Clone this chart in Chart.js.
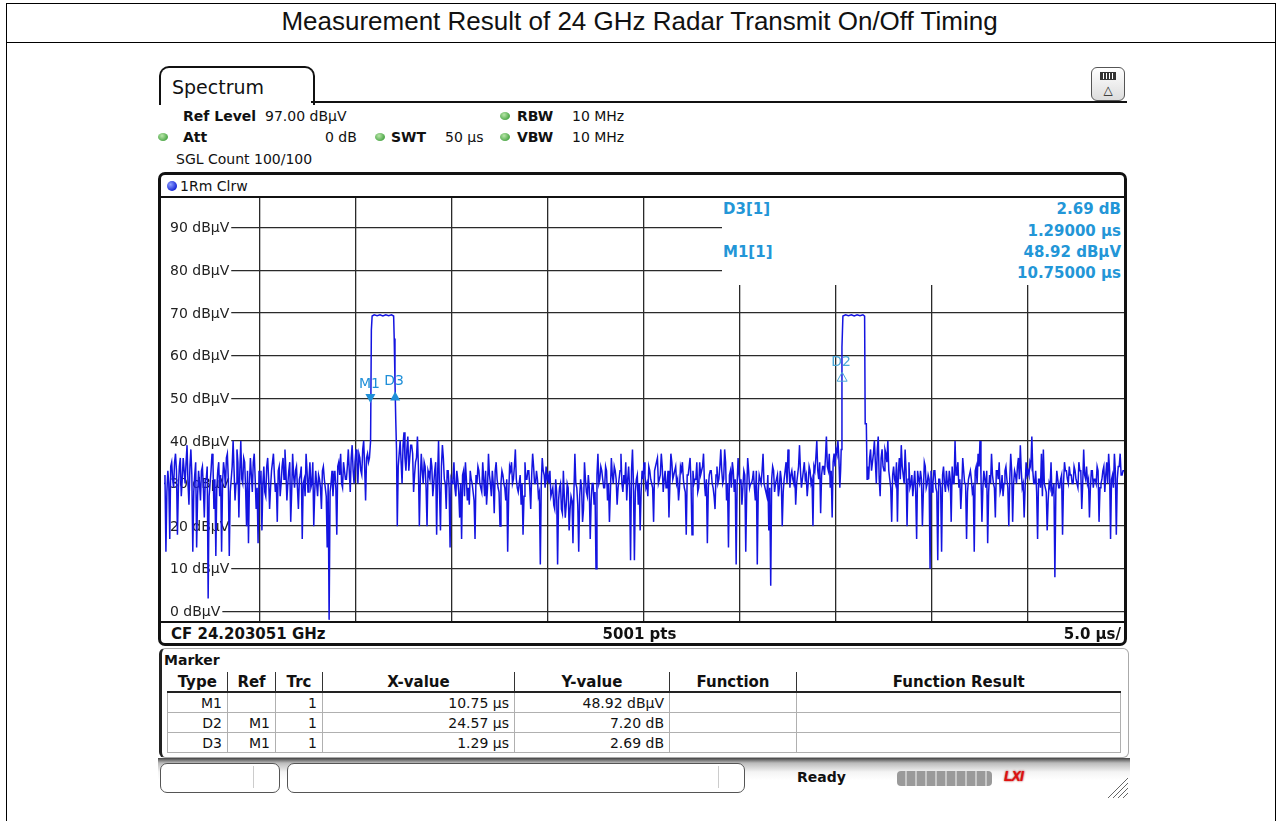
<!DOCTYPE html>
<html>
<head>
<meta charset="utf-8">
<script src="https://cdn.jsdelivr.net/npm/chart.js@4.4.1/dist/chart.umd.min.js"></script>
<style>
  html, body { margin: 0; padding: 0; background: #fff; }
  body { width: 1279px; height: 821px; position: relative; overflow: hidden; font-family: "DejaVu Sans", sans-serif; color: #111; }
  .abs { position: absolute; }
  .t { position: absolute; white-space: nowrap; line-height: 18px; font-size: 14px; }
  .b { font-weight: bold; }
  .mk { color: #2396d7; font-weight: bold; font-size: 15px; }
  .dot { position: absolute; width: 10px; height: 8px; border-radius: 50%; background: radial-gradient(circle at 40% 35%, #b8e6a8, #4fa84a 70%); }
  #page { left: 6px; top: 3px; width: 1268px; height: 840px; border: 1px solid #000; }
  #titleLine { left: 6px; top: 42px; width: 1270px; border-top: 1px solid #000; }
  #title { left: 0; width: 1279px; top: 6px; text-align: center; font-family: "Liberation Sans", Arial, sans-serif; font-size: 26px; line-height: 30px; }
  #tab { left: 159px; top: 66px; width: 152px; height: 37px; border: 2px solid #111; border-bottom: none; border-radius: 10px 10px 0 0; }
  #tabLine { left: 311px; top: 101px; width: 816px; border-top: 2px solid #111; }
  #icon { left: 1091px; top: 67px; width: 32px; height: 32px; border: 1.5px solid #555; border-radius: 6px; background: linear-gradient(#fff, #ddd); text-align: center; font-size: 12px; line-height: 14px; }
  #tracePanel { left: 158px; top: 172px; width: 963px; height: 468px; border: 3px solid #111; border-radius: 7px; }
  #headLine { left: 161px; top: 196px; width: 963px; border-top: 2px solid #111; }
  #footLine { left: 161px; top: 621px; width: 963px; border-top: 2px solid #111; }
  #plot { left: 164px; top: 198px; }
  #infoBox { left: 722px; top: 198px; width: 402px; height: 87px; background: #fff; }
  #markerPanel { left: 159px; top: 648px; width: 966px; height: 108px; border: 1px solid #aaa; border-left: 3px solid #222; border-radius: 6px; }
  table { position: absolute; left: 167px; top: 672px; border-collapse: collapse; font-size: 14px; table-layout: fixed; }
  th { height: 19px; padding: 0; font-weight: bold; font-size: 15px; border-left: 1px solid #333; border-bottom: 2px solid #222; text-align: center; }
  th:first-child { border-left: none; }
  td { height: 19px; padding: 0 5px 0 0; text-align: right; border: 1px solid #b0b0b0; line-height: 18px; }
  #statusBar { left: 158px; top: 758px; width: 972px; height: 40px; background: linear-gradient(#444 0px, #bbb 5px, #f4f4f4 14px, #fff 22px); }
  .sbox { position: absolute; top: 763px; height: 28px; border: 1px solid #555; border-radius: 7px; background: #fff; }
  .sdiv { position: absolute; top: 766px; height: 22px; border-left: 1px solid #ccc; }
  #progress { left: 897px; top: 771px; width: 95px; height: 15px; border-radius: 4px; background: repeating-linear-gradient(90deg, #9a9a9a 0 8px, #c8c8c8 8px 10px); }
  #lxi { left: 1004px; top: 768px; width: 32px; height: 18px; font: italic bold 14px "Liberation Sans", sans-serif; color: #e01010; letter-spacing: -1px; text-shadow: 0 0 2px #900; }
</style>
</head>
<body>
<div id="page" class="abs"></div>
<div id="titleLine" class="abs"></div>
<div id="title" class="abs">Measurement Result of 24 GHz Radar Transmit On/Off Timing</div>

<div id="tab" class="abs"></div>
<div id="tabLine" class="abs"></div>
<div class="t" style="left:172px; top:76px; font-size:19px; line-height:22px;">Spectrum</div>
<div id="icon" class="abs"><span style="display:inline-block;width:14px;height:6px;border:1px solid #333;background:repeating-linear-gradient(90deg,#333 0 2px,#fff 2px 3px);margin-top:4px;"></span><br>&#9651;</div>

<div class="t b" style="left:183px; top:107px;">Ref Level</div>
<div class="t" style="left:265px; top:107px;">97.00 dBµV</div>
<div class="dot" style="left:500px; top:112px;"></div>
<div class="t b" style="left:517px; top:107px;">RBW</div>
<div class="t" style="left:572px; top:107px;">10 MHz</div>
<div class="dot" style="left:158px; top:133px;"></div>
<div class="t b" style="left:183px; top:128px;">Att</div>
<div class="t" style="left:325px; top:128px;">0 dB</div>
<div class="dot" style="left:375px; top:133px;"></div>
<div class="t b" style="left:391px; top:128px;">SWT</div>
<div class="t" style="left:445px; top:128px;">50 µs</div>
<div class="dot" style="left:500px; top:133px;"></div>
<div class="t b" style="left:517px; top:128px;">VBW</div>
<div class="t" style="left:572px; top:128px;">10 MHz</div>
<div class="t" style="left:176px; top:150px;">SGL Count 100/100</div>

<div id="tracePanel" class="abs"></div>
<div class="abs" style="left:167px; top:181px; width:10px; height:10px; border-radius:50%; background:radial-gradient(circle at 35% 35%, #8fa0ff, #1a2ad8 70%);"></div>
<div class="t" style="left:180px; top:177px;">1Rm Clrw</div>
<div id="headLine" class="abs"></div>
<canvas id="plot" class="abs" width="960" height="424"></canvas>
<div id="infoBox" class="abs"></div>
<div class="t mk" style="left:723px; top:200px;">D3[1]</div>
<div class="t mk" style="right:158px; top:200px;">2.69 dB</div>
<div class="t mk" style="right:158px; top:222px;">1.29000 µs</div>
<div class="t mk" style="left:723px; top:243px;">M1[1]</div>
<div class="t mk" style="right:158px; top:243px;">48.92 dBµV</div>
<div class="t mk" style="right:158px; top:264px;">10.75000 µs</div>
<div id="footLine" class="abs"></div>
<div class="t b" style="left:171px; top:625px; font-size:15px;">CF 24.203051 GHz</div>
<div class="t b" style="left:0; width:1279px; text-align:center; top:625px; font-size:15px;">5001 pts</div>
<div class="t b" style="right:158px; top:625px; font-size:15px;">5.0 µs/</div>

<div id="markerPanel" class="abs"></div>
<div class="t b" style="left:164px; top:651px;">Marker</div>
<table id="markerTable">
  <colgroup>
    <col style="width:60px"><col style="width:48px"><col style="width:47px"><col style="width:192px">
    <col style="width:155px"><col style="width:127px"><col style="width:324px">
  </colgroup>
  <thead><tr id="markerHead"></tr></thead>
  <tbody id="markerBody"></tbody>
</table>

<div id="statusBar" class="abs"></div>
<div class="sbox" style="left:160px; width:118px;"></div>
<div class="sdiv" style="left:253px;"></div>
<div class="sbox" style="left:287px; width:456px;"></div>
<div class="sdiv" style="left:718px;"></div>
<div class="t b" style="left:797px; top:768px;">Ready</div>
<div id="progress" class="abs"></div>
<div id="lxi" class="abs">LXI</div>
<svg class="abs" style="left:1100px; top:774px;" width="30" height="24">
  <g stroke="#666" stroke-width="1"><line x1="28" y1="4" x2="8" y2="24"/><line x1="28" y1="9" x2="13" y2="24"/><line x1="28" y1="14" x2="18" y2="24"/><line x1="28" y1="19" x2="23" y2="24"/></g>
</svg>

<script>
// sweep: 50 us, 5 us per division; trace read per division at 0.1 us spacing,
// plus the in-between samples (offset by half a step) that fill the noise band
const sweepStart = 0;
const sweepStop = 50;
const divisionSpan = 5;
const sampleStep = 0.1;

const yMin = -2.5;
const yMax = 97;
const levelTicks = [90, 80, 70, 60, 50, 40, 30, 20, 10, 0];
const timeGrid = [5, 10, 15, 20, 25, 30, 35, 40, 45];

// noise floor, dBµV (null = covered by a pulse)
const traceDiv0 = [30, 14, 33, 17, 35, 29, 37, 18, 34, 27, 36, 30, 39, 25, 38, 14, 32, 15, 33, 26,
  34, 22, 31, 3, 30, 37, 24, 13, 33, 27, 14, 35, 29, 37, 13, 31, 40, 26, 38, 22,
  40, 30, 35, 20, 16, 36, 28, 37, 24, 16];
const traceDiv1 = [30, 19, 34, 27, 36, 24, 33, 37, 28, 21, 34, 30, 36, 38, 26, 33, 21, 37, 29, 34,
  24, 32, 17, 31, 37, 28, 35, 30, 20, 33, 27, 31, 24, 34, 29, 15, -2, 30, 27, 33,
  18, 35, 37, 29, 33, 31, 38, 28, 39, 30];
const traceDiv2 = [38, 30, 36, 32, 40, 26, 37, null, null, null, null, null, null, null, null, null,
  null, null, null, null, null, null, 34, 40, 30, 42, 33, 41, 36, 39, 28, 35, 41, 20, 37, 30,
  34, 20, 32, 36, 27, 33, 18, 40, 19, 39, 31, 24, 33, 15];
const traceDiv3 = [30, 35, 27, 31, 22, 17, 33, 35, 26, 25, 31, 28, 17, 30, 33, 29, 35, 27, 25, 37,
  30, 33, 23, 35, 29, 20, 33, 30, 26, 14, 34, 35, 31, 38, 29, 30, 25, 18, 35, 31,
  33, 24, 37, 30, 33, 27, 11, 36, 32, 34];
const traceDiv4 = [32, 33, 28, 25, 31, 11, 29, 24, 33, 22, 30, 19, 27, 16, 37, 29, 14, 31, 21, 35,
  28, 32, 17, 30, 25, 10, 37, 31, 33, 29, 34, 26, 21, 36, 30, 33, 25, 31, 37, 28,
  30, 26, 34, 12, 38, 12, 31, 25, 19, 33];
const traceDiv5 = [35, 29, 27, 33, 30, 21, 34, 36, 31, 37, 28, 33, 29, 22, 37, 31, 33, 30, 26, 34,
  35, 29, 18, 32, 36, 18, 30, 31, 28, 35, 33, 37, 27, 16, 32, 33, 29, 24, 34, 31,
  38, 30, 38, 26, 15, 33, 35, 28, 11, 36];
const traceDiv6 = [30, 25, 33, 14, 36, 29, 30, 33, 26, 11, 32, 30, 37, 30, 27, 19, 6, 34, 28, 31,
  27, 33, 20, 31, 35, 38, 29, 33, 30, 25, 32, 39, 29, 33, 31, 27, 34, 30, 20, 33,
  40, 31, 23, 34, 32, 41, 33, 29, 22, 37];
const traceDiv7 = [38, 40, 29, null, null, null, null, null, null, null, null, null, null, null, null,
  null, null, 31, 38, 35, 40, 30, 41, 27, 38, 33, 37, 40, 31, 21, 34, 30, 21, 36, 39,
  32, 38, 20, 35, 30, 27, 33, 17, 31, 33, 20, 35, 29, 32, 10];
const traceDiv8 = [28, 33, 29, 12, 31, 14, 34, 28, 30, 33, 21, 30, 40, 33, 29, 24, 36, 30, 17, 31,
  33, 28, 14, 34, 37, 40, 21, 33, 29, 16, 32, 37, 30, 22, 33, 35, 29, 27, 33, 31,
  20, 37, 21, 33, 30, 36, 39, 29, 22, 35];
const traceDiv9 = [33, 35, 41, 30, 33, 17, 31, 37, 38, 29, 19, 30, 35, 27, 8, 33, 29, 31, 18, 35,
  33, 30, 32, 30, 34, 31, 29, 33, 24, 38, 31, 30, 22, 33, 29, 31, 34, 21, 30, 33,
  28, 35, 37, 17, 32, 37, 18, 34, 37, 32];

// in-between samples (dense core of the noise band)
const traceMid0 = [32, 28, 30, 34, 31, 35, 33, 29, 36, 31, 33, 35, 30, 34, 32, 28, 35, 27, 30, 33,
  29, 31, 34, 27, 33, 35, 31, 29, 35, 32, 30, 33, 36, 31, 28, 34, 33, 30, 35, 33,
  31, 36, 29, 33, 30, 32, 35, 31, 29, 33];
const traceMid1 = [33, 30, 28, 34, 31, 29, 35, 32, 30, 33, 27, 34, 31, 33, 30, 35, 28, 32, 33, 29,
  31, 34, 30, 27, 33, 31, 29, 35, 28, 30, 32, 29, 33, 31, 27, 30, 28, 33, 31, 29,
  34, 32, 30, 35, 31, 34, 33, 36, 33, 35];
const traceMid2 = [35, 37, 33, 38, 34, 36, 35, null, null, null, null, null, null, null, null, null,
  null, null, null, null, null, null, 37, 35, 39, 36, 38, 33, 39, 37, 32, 36, 34, 31, 33, 35,
  29, 33, 31, 34, 30, 35, 32, 28, 34, 36, 30, 33, 29, 31];
const traceMid3 = [31, 29, 33, 28, 30, 32, 27, 31, 29, 33, 30, 26, 32, 34, 30, 28, 31, 33, 29, 32,
  27, 30, 33, 31, 28, 30, 32, 29, 31, 27, 33, 30, 34, 31, 28, 32, 30, 27, 31, 33,
  29, 32, 34, 30, 31, 28, 30, 33, 29, 31];
const traceMid4 = [30, 27, 29, 24, 28, 26, 30, 23, 27, 25, 29, 24, 26, 28, 30, 25, 27, 29, 24, 31,
  27, 29, 26, 30, 28, 32, 30, 34, 31, 29, 33, 30, 28, 32, 34, 31, 29, 33, 30, 32,
  35, 31, 29, 33, 30, 28, 32, 30, 28, 31];
const traceMid5 = [32, 30, 34, 31, 29, 33, 35, 30, 32, 34, 31, 29, 33, 30, 35, 32, 34, 31, 29, 33,
  31, 28, 32, 34, 30, 33, 31, 35, 29, 32, 34, 30, 31, 29, 33, 30, 27, 32, 30, 34,
  33, 31, 35, 30, 32, 29, 33, 31, 30, 32];
const traceMid6 = [31, 29, 32, 28, 33, 30, 31, 29, 33, 28, 31, 33, 30, 28, 32, 29, 31, 33, 30, 32,
  29, 31, 28, 33, 30, 34, 32, 31, 33, 30, 34, 33, 31, 35, 32, 30, 33, 31, 34, 36,
  33, 35, 32, 34, 36, 34, 37, 33, 35, 34];
const traceMid7 = [37, 36, null, null, null, null, null, null, null, null, null, null, null, null, null,
  null, 34, 36, 33, 37, 35, 38, 31, 36, 34, 38, 35, 33, 29, 32, 31, 35, 33, 31, 34,
  30, 33, 31, 29, 32, 30, 28, 33, 30, 31, 28, 34, 30, 31, 33];
const traceMid8 = [30, 33, 28, 31, 29, 32, 30, 33, 29, 31, 34, 30, 32, 35, 31, 29, 33, 30, 28, 32,
  31, 29, 33, 30, 34, 32, 29, 31, 33, 28, 30, 32, 29, 33, 31, 28, 32, 30, 34, 29,
  31, 33, 30, 32, 34, 31, 33, 30, 29, 32];
const traceMid9 = [32, 34, 33, 30, 28, 31, 29, 27, 30, 28, 26, 29, 27, 30, 28, 31, 29, 32, 30, 33,
  31, 34, 32, 30, 33, 31, 35, 33, 30, 32, 34, 31, 29, 33, 31, 30, 33, 29, 31, 34,
  32, 30, 33, 31, 29, 33, 31, 34, 32, 33];
const traceEndLevel = 33;

// the two transmit bursts
const pulse1Times = [10.70, 10.76, 10.80, 10.84, 10.95, 11.10, 11.25, 11.40, 11.55, 11.70, 11.85, 11.96, 11.99, 12.03, 12.07, 12.11, 12.15];
const pulse1Levels = [36, 40, 66, 69.3, 69.6, 69.4, 69.6, 69.3, 69.6, 69.4, 69.6, 69.3, 64, 54, 45, 38, 20];
const pulse2Times = [35.24, 35.27, 35.31, 35.36, 35.50, 35.65, 35.80, 35.95, 36.10, 36.25, 36.40, 36.49, 36.52, 36.58, 36.62];
const pulse2Levels = [33, 38, 62, 69.3, 69.6, 69.4, 69.6, 69.3, 69.6, 69.4, 69.6, 69.3, 44, 44, 31];

// marker table
const markerTypes = ['M1', 'D2', 'D3'];
const markerRefs = ['', 'M1', 'M1'];
const markerTraces = [1, 1, 1];
const markerX = [10.75, 24.57, 1.29];
const markerY = [48.92, 7.20, 2.69];
const markerXUnit = 'µs';
const markerYUnits = ['dBµV', 'dB', 'dB'];
const tableHeaders = ['Type', 'Ref', 'Trc', 'X-value', 'Y-value', 'Function', 'Function Result'];

const TRACE_BLUE = '#1414e0';
const MARKER_BLUE = '#1f8fd8';

const traceDivisions = [traceDiv0, traceDiv1, traceDiv2, traceDiv3, traceDiv4,
  traceDiv5, traceDiv6, traceDiv7, traceDiv8, traceDiv9];
const traceMids = [traceMid0, traceMid1, traceMid2, traceMid3, traceMid4,
  traceMid5, traceMid6, traceMid7, traceMid8, traceMid9];

const tracePoints = [];
traceDivisions.forEach((levels, d) => {
  levels.forEach((v, i) => {
    if (v !== null) tracePoints.push({ x: d * divisionSpan + i * sampleStep, y: v });
  });
});
traceMids.forEach((levels, d) => {
  levels.forEach((v, i) => {
    if (v !== null) tracePoints.push({ x: d * divisionSpan + (i + 0.5) * sampleStep, y: v });
  });
});
pulse1Times.forEach((t, i) => tracePoints.push({ x: t, y: pulse1Levels[i] }));
pulse2Times.forEach((t, i) => tracePoints.push({ x: t, y: pulse2Levels[i] }));
tracePoints.push({ x: sweepStop, y: traceEndLevel });
tracePoints.sort((a, b) => a.x - b.x);

// marker positions on the trace: deltas are relative to M1
const markerPos = markerTypes.map((name, i) => {
  if (markerRefs[i] === '') return { x: markerX[i], y: markerY[i] };
  const ref = markerTypes.indexOf(markerRefs[i]);
  return { x: markerX[ref] + markerX[i], y: markerY[ref] + markerY[i] };
});

// table
const head = document.getElementById('markerHead');
tableHeaders.forEach(h => {
  const th = document.createElement('th');
  th.textContent = h;
  head.appendChild(th);
});
const body = document.getElementById('markerBody');
markerTypes.forEach((name, i) => {
  const tr = document.createElement('tr');
  const cells = [name, markerRefs[i], markerTraces[i],
    markerX[i].toFixed(2) + ' ' + markerXUnit,
    markerY[i].toFixed(2) + ' ' + markerYUnits[i], '', ''];
  cells.forEach(c => {
    const td = document.createElement('td');
    td.textContent = c;
    tr.appendChild(td);
  });
  body.appendChild(tr);
});

const levelLabels = {
  id: 'levelLabels',
  beforeDatasetsDraw(chart) {
    const { ctx, chartArea, scales } = chart;
    ctx.save();
    ctx.font = '14px "DejaVu Sans"';
    ctx.textBaseline = 'middle';
    levelTicks.forEach(v => {
      const y = scales.y.getPixelForValue(v);
      const text = v + ' dBµV';
      const w = ctx.measureText(text).width;
      ctx.fillStyle = '#fff';
      ctx.fillRect(chartArea.left, y - 2, w + 8, 4);
      ctx.fillStyle = '#222';
      ctx.fillText(text, chartArea.left + 6, y + 1);
    });
    ctx.restore();
  }
};

const markerGlyphs = {
  id: 'markerGlyphs',
  afterDatasetsDraw(chart) {
    const { ctx, scales } = chart;
    ctx.save();
    ctx.font = '14px "DejaVu Sans"';
    ctx.textAlign = 'center';
    ctx.textBaseline = 'middle';
    markerTypes.forEach((name, i) => {
      const px = scales.x.getPixelForValue(markerPos[i].x);
      const py = scales.y.getPixelForValue(markerPos[i].y);
      ctx.beginPath();
      let top;
      if (name.startsWith('M')) {
        ctx.moveTo(px - 5, py - 9);
        ctx.lineTo(px + 5, py - 9);
        ctx.lineTo(px, py);
        top = py - 9;
      } else {
        ctx.moveTo(px, py);
        ctx.lineTo(px - 5, py + 9);
        ctx.lineTo(px + 5, py + 9);
        top = py;
      }
      ctx.closePath();
      if (name === 'D2') {
        ctx.strokeStyle = '#4aa8d8';
        ctx.lineWidth = 1;
        ctx.stroke();
        ctx.fillStyle = '#4aa8d8';
      } else {
        ctx.fillStyle = MARKER_BLUE;
        ctx.fill();
      }
      ctx.fillText(name, px - 1, top - 10);
    });
    ctx.restore();
  }
};

const gridStyle = { color: '#2a2a2a', lineWidth: 1.3, drawTicks: false };

new Chart(document.getElementById('plot'), {
  type: 'line',
  data: {
    datasets: [{
      data: tracePoints,
      borderColor: TRACE_BLUE,
      borderWidth: 1.5,
      pointRadius: 0,
      tension: 0,
      fill: false
    }]
  },
  options: {
    responsive: false,
    animation: false,
    layout: { padding: 0 },
    plugins: { legend: { display: false }, tooltip: { enabled: false } },
    scales: {
      x: {
        type: 'linear', min: sweepStart, max: sweepStop,
        afterBuildTicks: ax => { ax.ticks = timeGrid.map(v => ({ value: v })); },
        afterFit: ax => { ax.height = 0; },
        ticks: { display: false },
        grid: gridStyle,
        border: { display: false }
      },
      y: {
        type: 'linear', min: yMin, max: yMax,
        afterBuildTicks: ax => { ax.ticks = levelTicks.map(v => ({ value: v })); },
        afterFit: ax => { ax.width = 0; },
        ticks: { display: false },
        grid: gridStyle,
        border: { display: false }
      }
    }
  },
  plugins: [levelLabels, markerGlyphs]
});
</script>
</body>
</html>
